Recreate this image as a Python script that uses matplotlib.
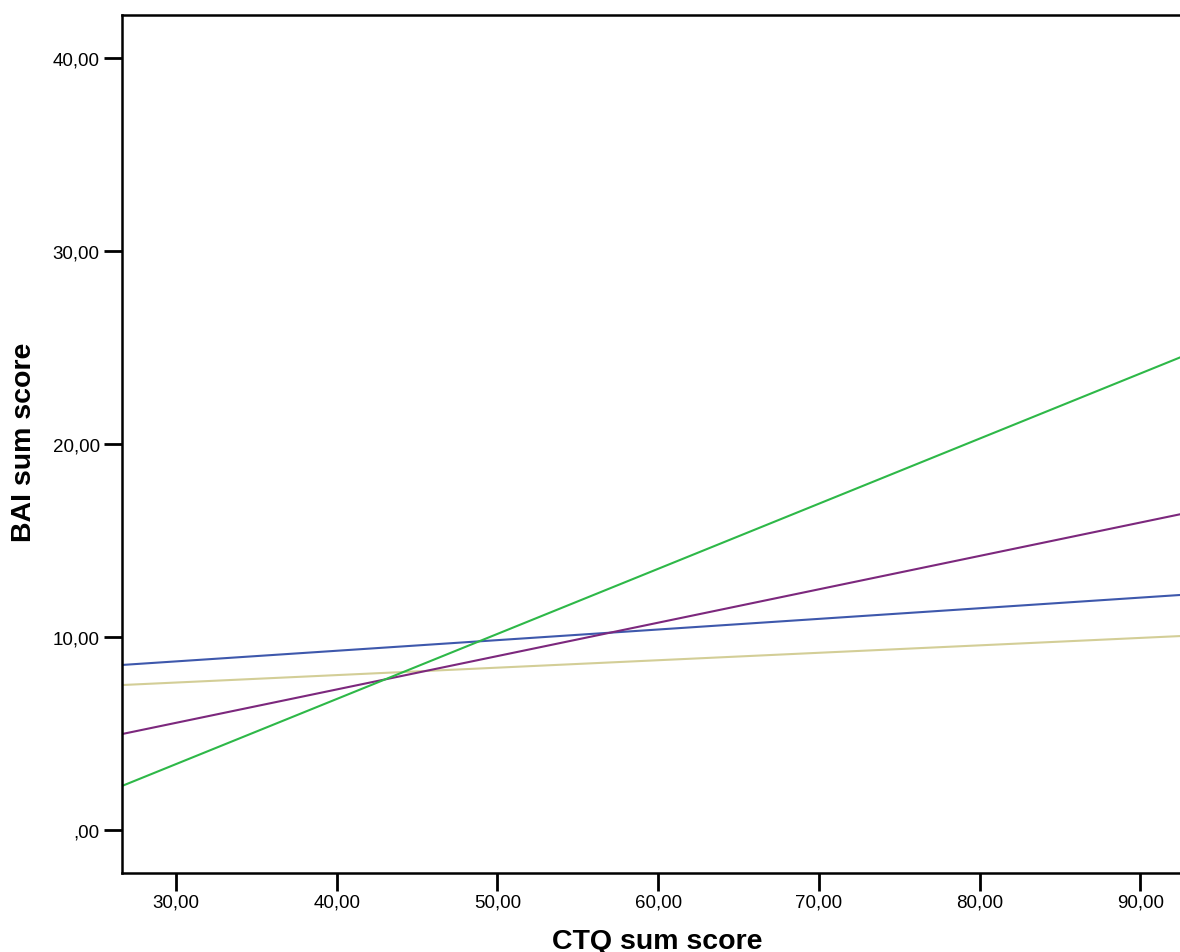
import matplotlib.pyplot as plt

plt.rcParams['font.family'] = ['Liberation Sans', 'DejaVu Sans']

# fit lines, read at the left and right edge of the plot
x_ends = [26.64, 92.55]
series_names = ["blue", "tan", "purple", "green"]
y_start = [8.55, 7.51, 4.97, 2.28]
y_end = [12.18, 10.05, 16.37, 24.51]
colors = ["#3E58AC", "#D3CE97", "#7C287D", "#2EB848"]

xticks = [30, 40, 50, 60, 70, 80, 90]
xtick_labels = ["30,00", "40,00", "50,00", "60,00", "70,00", "80,00", "90,00"]
yticks = [0, 10, 20, 30, 40]
ytick_labels = [",00", "10,00", "20,00", "30,00", "40,00"]

fig = plt.figure(figsize=(11.8, 9.53), dpi=100)
ax = fig.add_axes([122 / 1180, 1 - 874 / 953, 1 - 122 / 1180 + 0.001, (874 - 16) / 953])

for name, y0, y1, c in zip(series_names, y_start, y_end, colors):
    ax.plot(x_ends, [y0, y1], color=c, lw=1.5, label=name)

ax.set_xlim(26.64, 92.55)
ax.set_ylim(-2.23, 42.23)
ax.set_xticks(xticks)
ax.set_xticklabels(xtick_labels)
ax.set_yticks(yticks)
ax.set_yticklabels(ytick_labels)
ax.tick_params(direction='out', length=13, width=2, labelsize=13.5)
ax.tick_params(axis='x', pad=2)
ax.tick_params(axis='y', pad=3)

for side in ["left", "bottom", "top"]:
    ax.spines[side].set_linewidth(1.8)
ax.spines["right"].set_visible(False)

ax.set_xlabel("CTQ sum score", fontsize=20.5, fontweight='bold')
ax.set_ylabel("BAI sum score", fontsize=20.5, fontweight='bold')
ax.xaxis.set_label_coords(657 / 1180, 1 - 949 / 953, transform=fig.transFigure)
ax.yaxis.set_label_coords(24 / 1180, 1 - 442 / 953, transform=fig.transFigure)
ax.xaxis.label.set_va('baseline')
ax.yaxis.label.set_va('center')

fig.savefig("out.png", dpi=100)
